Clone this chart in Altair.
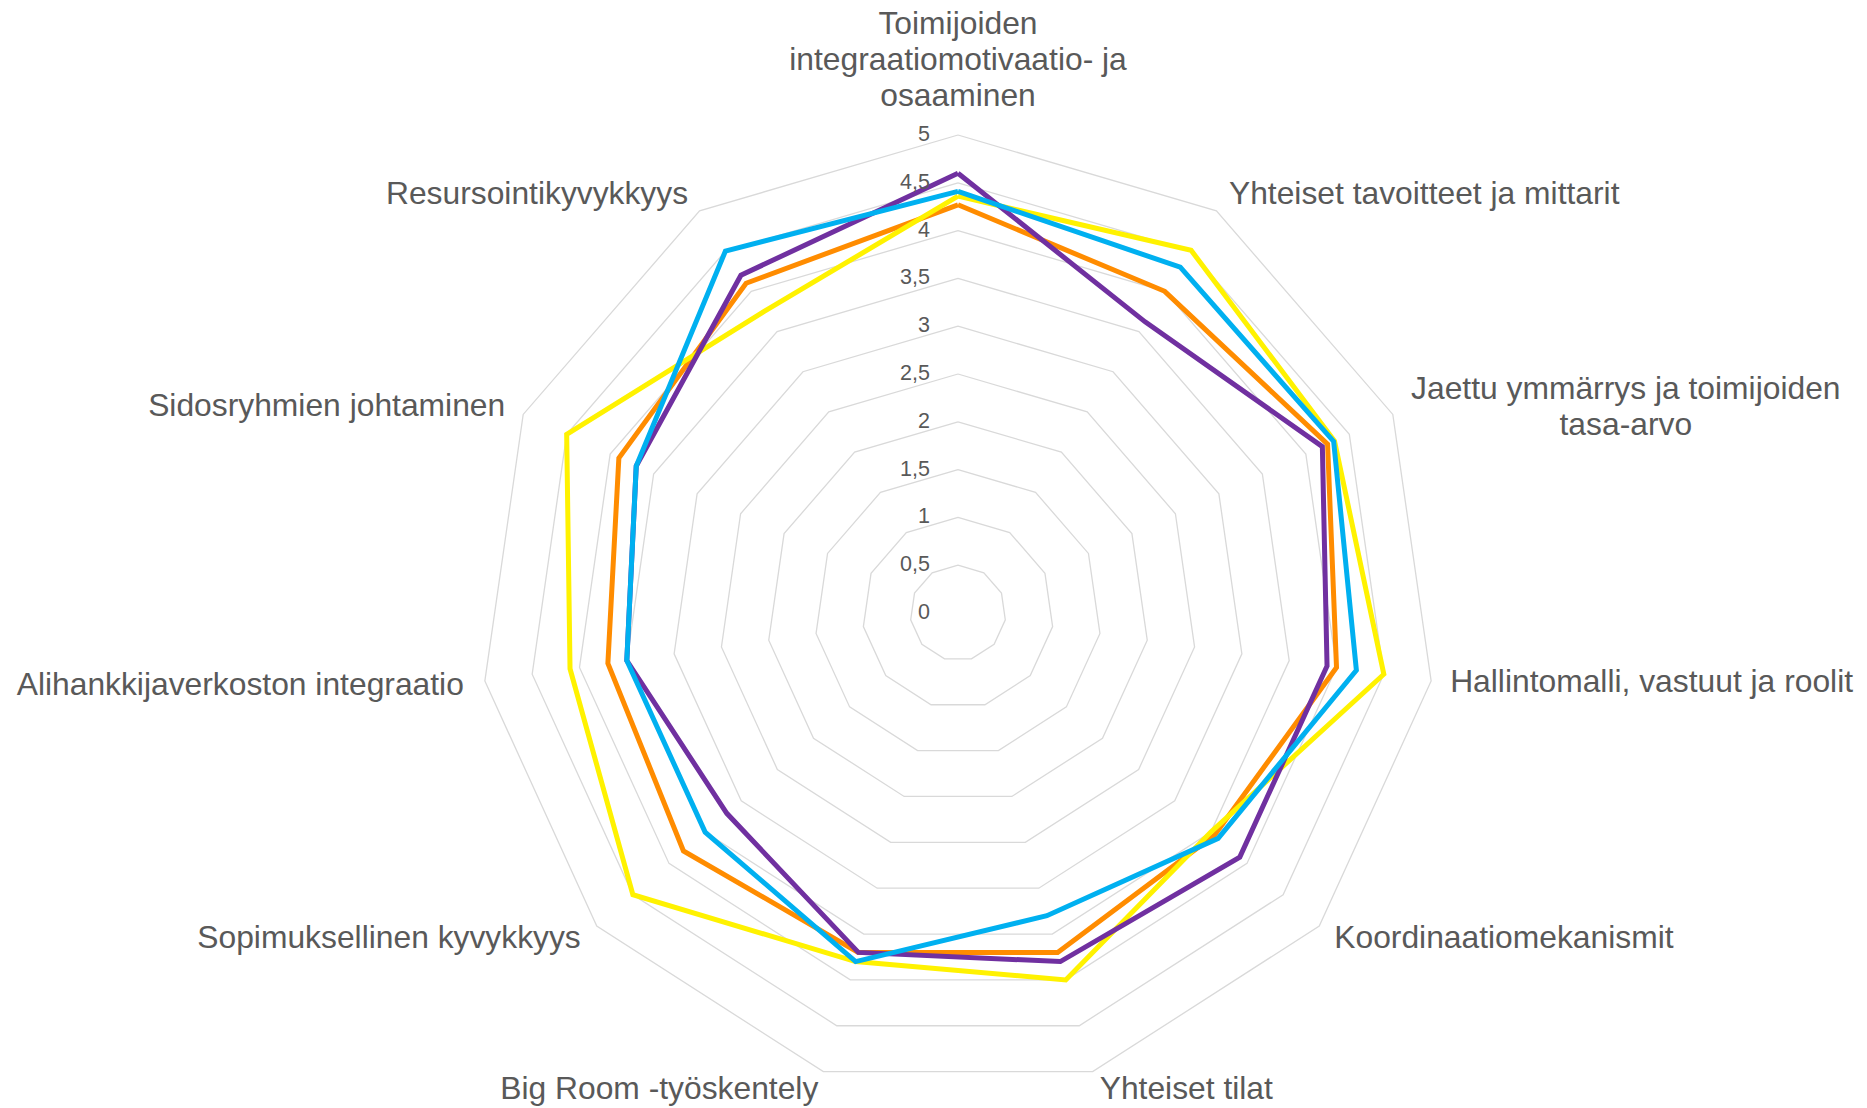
import altair as alt
import pandas as pd

# ---------------- data ----------------
categories = [
    "Toimijoiden\nintegraatiomotivaatio- ja\nosaaminen",
    "Yhteiset tavoitteet ja mittarit",
    "Jaettu ymmärrys ja toimijoiden\ntasa-arvo",
    "Hallintomalli, vastuut ja roolit",
    "Koordinaatiomekanismit",
    "Yhteiset tilat",
    "Big Room -työskentely",
    "Sopimuksellinen kyvykkyys",
    "Alihankkijaverkoston integraatio",
    "Sidosryhmien johtaminen",
    "Resursointikyvykkyys",
]
orange = [4.27, 4.00, 4.25, 4.00, 3.55, 3.70, 3.70, 3.80, 3.70, 3.90, 4.10]
yellow = [4.36, 4.51, 4.33, 4.50, 3.50, 4.00, 3.80, 4.50, 4.10, 4.50, 3.75]
purple = [4.60, 3.62, 4.19, 3.90, 3.90, 3.80, 3.70, 3.20, 3.50, 3.70, 4.20]
blue = [4.41, 4.30, 4.32, 4.21, 3.60, 3.30, 3.80, 3.50, 3.50, 3.70, 4.50]
tick_values = [0, 0.5, 1, 1.5, 2, 2.5, 3, 3.5, 4, 4.5, 5]
tick_labels = ["0", "0,5", "1", "1,5", "2", "2,5", "3", "3,5", "4", "4,5", "5"]

series = [
    ("orange", orange, "#FF8C00"),
    ("yellow", yellow, "#FFF200"),
    ("purple", purple, "#7030A0"),
    ("blue", blue, "#00B0F0"),
]

N = len(categories)
MAXV = 5

# ---------------- layout ----------------
W, H = 1851, 1099
CX, CY = 950, 605          # centre in plot pixels
UNIT = 95.6                # pixels per value unit
XMIN, XMAX = -CX / UNIT, (W - CX) / UNIT
YMAX, YMIN = CY / UNIT, -(H - CY) / UNIT

xs = alt.Scale(domain=[XMIN, XMAX], nice=False, zero=False)
ys = alt.Scale(domain=[YMIN, YMAX], nice=False, zero=False)

ANG = "2*PI*datum.idx/" + str(N)


def polar(base):
    return base.transform_calculate(
        x="datum.value*sin(" + ANG + ")",
        y="datum.value*cos(" + ANG + ")",
    )


def enc(chart, **kw):
    return chart.encode(
        x=alt.X("x:Q", scale=xs, axis=None),
        y=alt.Y("y:Q", scale=ys, axis=None),
        **kw,
    )


# grid rings
grid_rows = [
    {"level": lv, "idx": i, "value": lv}
    for lv in tick_values if lv > 0
    for i in range(N + 1)
]
grid = enc(
    polar(alt.Chart(pd.DataFrame(grid_rows))).mark_line(
        color="#D9D9D9", strokeWidth=1.3
    ),
    detail="level:N",
    order="idx:Q",
)

# series lines
line_layers = []
for name, vals, col in series:
    rows = [{"idx": i, "value": vals[i % N]} for i in range(N + 1)]
    line_layers.append(
        enc(
            polar(alt.Chart(pd.DataFrame(rows))).mark_line(
                color=col, strokeWidth=5, strokeJoin="miter"
            ),
            order="idx:Q",
        )
    )

# tick labels along the top axis
tick_df = pd.DataFrame(
    {"idx": [0] * len(tick_values), "value": tick_values, "label": tick_labels}
)
ticks = enc(
    polar(alt.Chart(tick_df)).mark_text(
        align="right", baseline="middle", dx=-28, fontSize=21.5,
        color="#595959", font="Liberation Sans",
    ),
    text="label:N",
)

# category labels
label_style = [
    ("center", 0, -111),
    ("left", 12.5, -17),
    ("center", 233, -25),
    ("left", 19, 1),
    ("left", 15, 12),
    ("left", 7, 17.5),
    ("right", -5, 17.5),
    ("right", -16, 12),
    ("right", -21, 4),
    ("right", -18, -8),
    ("right", -11.5, -17),
]
label_layers = []
for i, cat in enumerate(categories):
    al, dx, dy = label_style[i]
    df = pd.DataFrame({"idx": [i], "value": [MAXV], "label": [cat]})
    label_layers.append(
        enc(
            polar(alt.Chart(df)).mark_text(
                align=al, baseline="middle", dx=dx, dy=dy, fontSize=31.8,
                lineHeight=36, lineBreak="\n", color="#595959",
                font="Liberation Sans",
            ),
            text="label:N",
        )
    )

chart = (
    alt.layer(grid, *line_layers, ticks, *label_layers)
    .properties(
        width=W, height=H,
        autosize=alt.AutoSizeParams(type="none"),
        padding=0,
    )
    .configure_view(stroke=None)
)

chart.save("out.html", embed_options={"renderer": "svg", "actions": False})
